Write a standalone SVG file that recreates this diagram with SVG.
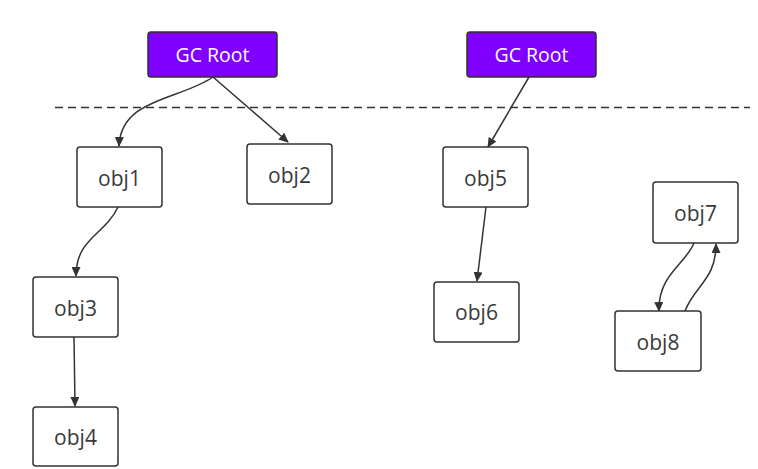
<svg xmlns="http://www.w3.org/2000/svg" width="758" height="469" viewBox="0 0 758 469">
<defs>
<style>
.node rect{fill:#fff;stroke:#323232;stroke-width:1.5}
.root rect{fill:#7f00ff;stroke:#323232;stroke-width:1.5}
text{font-family:"Open Sans","Noto Sans","Liberation Sans",sans-serif;font-size:21px;text-anchor:middle;dominant-baseline:central;fill:#3a3a3a}
.root text{fill:#fff;font-size:19.5px}
.edge{fill:none;stroke:#333;stroke-width:1.5;marker-end:url(#arr)}
</style>
<marker id="arr" viewBox="0 0 10 10" refX="9" refY="5" markerWidth="10" markerHeight="9" orient="auto" markerUnits="userSpaceOnUse" preserveAspectRatio="none">
<path d="M0,0 L10,5 L0,10 z" fill="#333"/>
</marker>
</defs>
<rect width="758" height="469" fill="#fff"/>
<line x1="55" y1="107.5" x2="750" y2="107.5" stroke="#333" stroke-width="1.3" stroke-dasharray="8,5"/>
<g id="connectors">
<path class="edge" d="M213,77 C180,100 121,98 119,146"/>
<path class="edge" d="M213,77 L288,142"/>
<path class="edge" d="M529,77 L488,147"/>
<path class="edge" d="M118,207 C105,235 76,238 76,276"/>
<path class="edge" d="M74,337 L75,406"/>
<path class="edge" d="M486,207 L477,281"/>
<path class="edge" d="M694,243 C685,265 658,275 659,311"/>
<path class="edge" d="M685,311 C695,285 716,280 716,244"/>
</g>
<g id="gcroot1" class="root"><rect x="148" y="32" width="129" height="45" rx="3"/><text x="212.5" y="54">GC Root</text></g>
<g id="gcroot2" class="root"><rect x="467" y="32" width="129" height="45" rx="3"/><text x="531.5" y="54">GC Root</text></g>
<g id="obj1" class="node"><rect x="77" y="147" width="85" height="60" rx="3"/><text x="119.5" y="178">obj1</text></g>
<g id="obj2" class="node"><rect x="247" y="144" width="85" height="60" rx="3"/><text x="289.5" y="175">obj2</text></g>
<g id="obj3" class="node"><rect x="33" y="277" width="85" height="60" rx="3"/><text x="75.5" y="308">obj3</text></g>
<g id="obj4" class="node"><rect x="33" y="407" width="85" height="59" rx="3"/><text x="75.5" y="437">obj4</text></g>
<g id="obj5" class="node"><rect x="443" y="147" width="85" height="60" rx="3"/><text x="485.5" y="178">obj5</text></g>
<g id="obj6" class="node"><rect x="434" y="282" width="85" height="60" rx="3"/><text x="476.5" y="312">obj6</text></g>
<g id="obj7" class="node"><rect x="653" y="182" width="85" height="61" rx="3"/><text x="695.5" y="213">obj7</text></g>
<g id="obj8" class="node"><rect x="615" y="311" width="86" height="60" rx="3"/><text x="658" y="342">obj8</text></g>
</svg>
